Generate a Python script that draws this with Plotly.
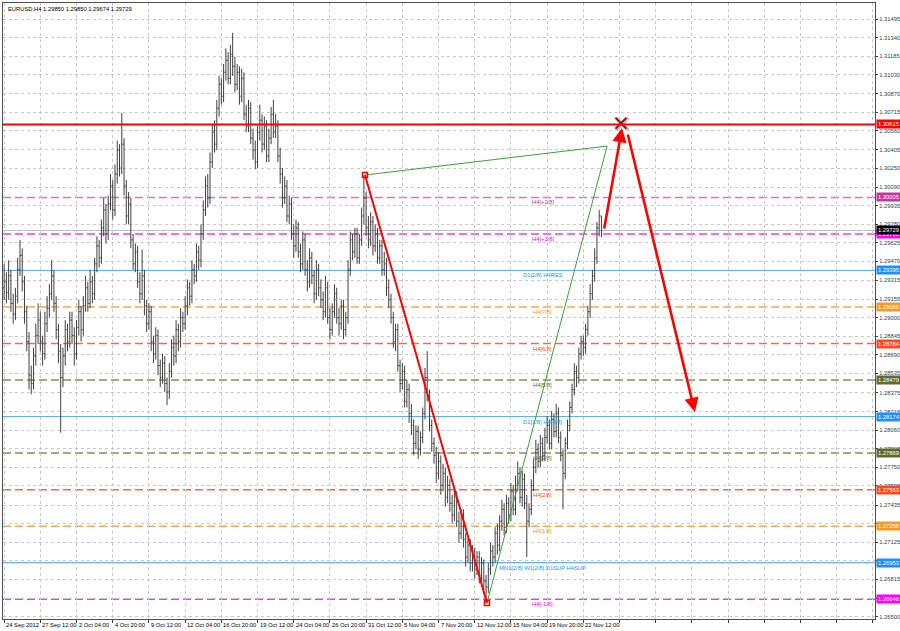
import plotly.graph_objects as go

symbol_title = "EURUSD,H4 1.29850 1.29850 1.29674 1.29729"

x_label_bars = [0, 16, 32, 48, 64, 80, 96, 112, 128, 144, 160, 176, 192, 208, 224, 240, 256]
x_labels = ["24 Sep 2012", "27 Sep 12:00", "2 Oct 04:00", "4 Oct 20:00", "9 Oct 12:00",
            "12 Oct 04:00", "16 Oct 20:00", "19 Oct 12:00", "24 Oct 04:00", "26 Oct 20:00",
            "31 Oct 12:00", "5 Nov 04:00", "7 Nov 20:00", "12 Nov 12:00", "15 Nov 04:00",
            "19 Nov 20:00", "22 Nov 12:00"]
grid_bars = [0, 16, 32, 48, 64, 80, 96, 112, 128, 144, 160, 176, 192, 208, 224, 240, 256,
             272, 288, 304, 320, 336, 352, 368, 384]

y_ticks = [1.31495, 1.31340, 1.31185, 1.31030, 1.30870, 1.30715, 1.30560, 1.30405, 1.30250,
           1.30090, 1.29935, 1.29780, 1.29625, 1.29470, 1.29315, 1.29155, 1.29000, 1.28845,
           1.28690, 1.28535, 1.28375, 1.28215, 1.28060, 1.27905, 1.27750, 1.27595, 1.27435,
           1.27280, 1.27125, 1.26970, 1.26815, 1.26655, 1.26500]
y_hidden_ticks = [1.26970, 1.26655]

# H4 bars, 24 Sep 2012 20:00 .. 23 Nov 2012 20:00
opens = [
    1.2925, 1.2930, 1.2921, 1.2935, 1.2912, 1.2903, 1.2918, 1.2940, 1.2952, 1.2930,
    1.2905, 1.2880, 1.2852, 1.2845, 1.2868, 1.2885, 1.2898, 1.2880, 1.2870, 1.2895,
    1.2908, 1.2920, 1.2935, 1.2912, 1.2890, 1.2872, 1.2850, 1.2868, 1.2890, 1.2880,
    1.2898, 1.2885, 1.2870, 1.2892, 1.2905, 1.2890, 1.2910, 1.2925, 1.2912, 1.2930,
    1.2920, 1.2945, 1.2960, 1.2950, 1.2975, 1.2990, 1.2970, 1.2995, 1.3010, 1.2990,
    1.3020, 1.3040, 1.3025, 1.3045, 1.3010, 1.2985, 1.2995, 1.2965, 1.2945, 1.2955,
    1.2930, 1.2920, 1.2935, 1.2910, 1.2895, 1.2905, 1.2880, 1.2870, 1.2885, 1.2860,
    1.2850, 1.2862, 1.2845, 1.2838, 1.2855, 1.2875, 1.2868, 1.2890, 1.2880, 1.2900,
    1.2895, 1.2910, 1.2925, 1.2918, 1.2940, 1.2935, 1.2955, 1.2948, 1.2970, 1.2990,
    1.3010, 1.3000, 1.3030, 1.3055, 1.3045, 1.3075, 1.3095, 1.3085, 1.3105, 1.3115,
    1.3100, 1.3120, 1.3110, 1.3095, 1.3105, 1.3085, 1.3100, 1.3070, 1.3060, 1.3075,
    1.3050, 1.3040, 1.3030, 1.3055, 1.3065, 1.3045, 1.3060, 1.3035, 1.3050, 1.3070,
    1.3055, 1.3060, 1.3035, 1.3020, 1.3000, 1.3010, 1.2985, 1.2995, 1.2970, 1.2960,
    1.2975, 1.2955, 1.2945, 1.2965, 1.2940, 1.2930, 1.2950, 1.2935, 1.2920, 1.2940,
    1.2925, 1.2915, 1.2905, 1.2925, 1.2900, 1.2890, 1.2905, 1.2920, 1.2900, 1.2895,
    1.2910, 1.2890, 1.2900, 1.2940, 1.2965, 1.2955, 1.2970, 1.2950, 1.2965, 1.2985,
    1.3000, 1.2975, 1.2965, 1.2980, 1.2960, 1.2970, 1.2950, 1.2960, 1.2940, 1.2945,
    1.2925, 1.2915, 1.2900, 1.2880, 1.2890, 1.2860, 1.2845, 1.2855, 1.2830, 1.2840,
    1.2820, 1.2810, 1.2795, 1.2805, 1.2790, 1.2800, 1.2820, 1.2850, 1.2835, 1.2810,
    1.2795, 1.2785, 1.2770, 1.2780, 1.2760, 1.2770, 1.2750, 1.2760, 1.2745, 1.2735,
    1.2750, 1.2730, 1.2720, 1.2735, 1.2715, 1.2700, 1.2710, 1.2695, 1.2705, 1.2690,
    1.2700, 1.2685, 1.2695, 1.2680, 1.2675, 1.2690, 1.2705, 1.2700, 1.2720, 1.2710,
    1.2730, 1.2740, 1.2725, 1.2745, 1.2735, 1.2755, 1.2740, 1.2760, 1.2770, 1.2750,
    1.2765, 1.2745, 1.2730, 1.2740, 1.2760, 1.2775, 1.2790, 1.2780, 1.2795, 1.2785,
    1.2800, 1.2810, 1.2795, 1.2815, 1.2805, 1.2820, 1.2800, 1.2785, 1.2770, 1.2795,
    1.2810, 1.2825, 1.2840, 1.2855, 1.2850, 1.2870, 1.2880, 1.2875, 1.2890, 1.2905,
    1.2920, 1.2935, 1.2950, 1.2975, 1.29850]
highs = [
    1.2945, 1.2938, 1.2948, 1.2940, 1.2920, 1.2925, 1.2950, 1.2965, 1.2958, 1.2935,
    1.2910, 1.2888, 1.2860, 1.2875, 1.2895, 1.2912, 1.2905, 1.2885, 1.2905, 1.2918,
    1.2928, 1.2948, 1.2940, 1.2918, 1.2895, 1.2878, 1.2875, 1.2898, 1.2895, 1.2905,
    1.2905, 1.2892, 1.2898, 1.2915, 1.2910, 1.2918, 1.2935, 1.2930, 1.2940, 1.2935,
    1.2950, 1.2968, 1.2965, 1.2982, 1.3000, 1.2995, 1.3002, 1.3020, 1.3015, 1.3028,
    1.3048, 1.3045, 1.3071, 1.3050, 1.3015, 1.3005, 1.3000, 1.2970, 1.2962, 1.2960,
    1.2938, 1.2957, 1.2940, 1.2915, 1.2912, 1.2910, 1.2885, 1.2892, 1.2890, 1.2865,
    1.2870, 1.2868, 1.2850, 1.2862, 1.2882, 1.2885, 1.2898, 1.2895, 1.2908, 1.2905,
    1.2918, 1.2932, 1.2930, 1.2948, 1.2945, 1.2962, 1.2960, 1.2978, 1.2998, 1.3018,
    1.3020, 1.3038, 1.3062, 1.3065, 1.3082, 1.3102, 1.3100, 1.3112, 1.3125, 1.3122,
    1.3128, 1.3138, 1.3118, 1.3112, 1.3110, 1.3108, 1.3105, 1.3078, 1.3082, 1.3080,
    1.3058, 1.3048, 1.3060, 1.3078, 1.3070, 1.3068, 1.3065, 1.3058, 1.3076, 1.3082,
    1.3070, 1.3065, 1.3042, 1.3025, 1.3018, 1.3015, 1.3002, 1.3000, 1.2978, 1.2982,
    1.2980, 1.2962, 1.2972, 1.2970, 1.2948, 1.2958, 1.2955, 1.2940, 1.2948, 1.2945,
    1.2932, 1.2922, 1.2935, 1.2930, 1.2908, 1.2912, 1.2928, 1.2925, 1.2908, 1.2915,
    1.2915, 1.2905, 1.2948, 1.2972, 1.2970, 1.2975, 1.2975, 1.2970, 1.2992, 1.3019,
    1.3005, 1.2985, 1.2988, 1.2985, 1.2978, 1.2975, 1.2965, 1.2965, 1.2955, 1.2950,
    1.2932, 1.2920, 1.2905, 1.2895, 1.2895, 1.2865, 1.2862, 1.2860, 1.2848, 1.2845,
    1.2828, 1.2815, 1.2810, 1.2810, 1.2805, 1.2825, 1.2858, 1.2872, 1.2840, 1.2815,
    1.2800, 1.2792, 1.2788, 1.2785, 1.2778, 1.2775, 1.2768, 1.2765, 1.2752, 1.2758,
    1.2755, 1.2738, 1.2740, 1.2740, 1.2720, 1.2715, 1.2715, 1.2710, 1.2708, 1.2705,
    1.2705, 1.2700, 1.2698, 1.2685, 1.2695, 1.2712, 1.2710, 1.2725, 1.2728, 1.2735,
    1.2748, 1.2745, 1.2752, 1.2750, 1.2762, 1.2760, 1.2768, 1.2780, 1.2775, 1.2772,
    1.2770, 1.2752, 1.2745, 1.2765, 1.2782, 1.2798, 1.2795, 1.2802, 1.2800, 1.2808,
    1.2818, 1.2815, 1.2822, 1.2820, 1.2828, 1.2825, 1.2805, 1.2790, 1.2800, 1.2815,
    1.2830, 1.2845, 1.2862, 1.2860, 1.2875, 1.2885, 1.2885, 1.2895, 1.2910, 1.2928,
    1.2940, 1.2958, 1.2980, 1.2990, 1.29850]
lows = [
    1.2915, 1.2912, 1.2915, 1.2905, 1.2895, 1.2898, 1.2912, 1.2935, 1.2922, 1.2895,
    1.2872, 1.2840, 1.2836, 1.2840, 1.2860, 1.2878, 1.2872, 1.2860, 1.2865, 1.2888,
    1.2900, 1.2915, 1.2905, 1.2882, 1.2862, 1.2804, 1.2842, 1.2860, 1.2872, 1.2875,
    1.2878, 1.2860, 1.2865, 1.2885, 1.2880, 1.2885, 1.2905, 1.2905, 1.2908, 1.2912,
    1.2915, 1.2938, 1.2942, 1.2945, 1.2968, 1.2962, 1.2965, 1.2990, 1.2982, 1.2985,
    1.3012, 1.3018, 1.3020, 1.3002, 1.2978, 1.2978, 1.2958, 1.2940, 1.2938, 1.2925,
    1.2912, 1.2915, 1.2902, 1.2888, 1.2890, 1.2872, 1.2862, 1.2865, 1.2852, 1.2842,
    1.2845, 1.2838, 1.2827, 1.2832, 1.2850, 1.2860, 1.2862, 1.2872, 1.2875, 1.2888,
    1.2890, 1.2902, 1.2910, 1.2912, 1.2928, 1.2930, 1.2940, 1.2942, 1.2965, 1.2985,
    1.2992, 1.2995, 1.3025, 1.3038, 1.3040, 1.3068, 1.3078, 1.3080, 1.3098, 1.3095,
    1.3095, 1.3102, 1.3088, 1.3090, 1.3078, 1.3080, 1.3065, 1.3055, 1.3055, 1.3045,
    1.3032, 1.3024, 1.3025, 1.3048, 1.3038, 1.3040, 1.3030, 1.3030, 1.3045, 1.3050,
    1.3050, 1.3030, 1.3012, 1.2992, 1.2995, 1.2980, 1.2978, 1.2965, 1.2950, 1.2955,
    1.2950, 1.2938, 1.2940, 1.2935, 1.2922, 1.2925, 1.2928, 1.2912, 1.2915, 1.2918,
    1.2908, 1.2898, 1.2900, 1.2895, 1.2882, 1.2885, 1.2900, 1.2895, 1.2885, 1.2890,
    1.2882, 1.2885, 1.2895, 1.2935, 1.2948, 1.2950, 1.2945, 1.2945, 1.2960, 1.2978,
    1.2968, 1.2958, 1.2960, 1.2952, 1.2955, 1.2945, 1.2945, 1.2935, 1.2935, 1.2918,
    1.2908, 1.2895, 1.2875, 1.2872, 1.2855, 1.2838, 1.2840, 1.2825, 1.2825, 1.2812,
    1.2802, 1.2785, 1.2790, 1.2782, 1.2785, 1.2795, 1.2815, 1.2830, 1.2805, 1.2788,
    1.2778, 1.2762, 1.2765, 1.2752, 1.2755, 1.2742, 1.2745, 1.2738, 1.2728, 1.2730,
    1.2725, 1.2712, 1.2715, 1.2708, 1.2692, 1.2695, 1.2688, 1.2688, 1.2682, 1.2685,
    1.2678, 1.2680, 1.2672, 1.2662, 1.2670, 1.2685, 1.2692, 1.2695, 1.2702, 1.2705,
    1.2722, 1.2718, 1.2720, 1.2728, 1.2730, 1.2735, 1.2735, 1.2755, 1.2745, 1.2742,
    1.2740, 1.2700, 1.2725, 1.2735, 1.2755, 1.2770, 1.2775, 1.2775, 1.2780, 1.2780,
    1.2795, 1.2790, 1.2790, 1.2800, 1.2800, 1.2795, 1.2780, 1.2740, 1.2765, 1.2790,
    1.2805, 1.2820, 1.2835, 1.2842, 1.2845, 1.2865, 1.2868, 1.2870, 1.2885, 1.2900,
    1.2915, 1.2930, 1.2945, 1.2968, 1.29674]
closes = [
    1.2930, 1.2921, 1.2935, 1.2912, 1.2903, 1.2918, 1.2940, 1.2952, 1.2930, 1.2905,
    1.2880, 1.2852, 1.2845, 1.2868, 1.2885, 1.2898, 1.2880, 1.2870, 1.2895, 1.2908,
    1.2920, 1.2935, 1.2912, 1.2890, 1.2872, 1.2850, 1.2868, 1.2890, 1.2880, 1.2898,
    1.2885, 1.2870, 1.2892, 1.2905, 1.2890, 1.2910, 1.2925, 1.2912, 1.2930, 1.2920,
    1.2945, 1.2960, 1.2950, 1.2975, 1.2990, 1.2970, 1.2995, 1.3010, 1.2990, 1.3020,
    1.3040, 1.3025, 1.3045, 1.3010, 1.2985, 1.2995, 1.2965, 1.2945, 1.2955, 1.2930,
    1.2920, 1.2935, 1.2910, 1.2895, 1.2905, 1.2880, 1.2870, 1.2885, 1.2860, 1.2850,
    1.2862, 1.2845, 1.2838, 1.2855, 1.2875, 1.2868, 1.2890, 1.2880, 1.2900, 1.2895,
    1.2910, 1.2925, 1.2918, 1.2940, 1.2935, 1.2955, 1.2948, 1.2970, 1.2990, 1.3010,
    1.3000, 1.3030, 1.3055, 1.3045, 1.3075, 1.3095, 1.3085, 1.3105, 1.3115, 1.3100,
    1.3120, 1.3110, 1.3095, 1.3105, 1.3085, 1.3100, 1.3070, 1.3060, 1.3075, 1.3050,
    1.3040, 1.3030, 1.3055, 1.3065, 1.3045, 1.3060, 1.3035, 1.3050, 1.3070, 1.3055,
    1.3060, 1.3035, 1.3020, 1.3000, 1.3010, 1.2985, 1.2995, 1.2970, 1.2960, 1.2975,
    1.2955, 1.2945, 1.2965, 1.2940, 1.2930, 1.2950, 1.2935, 1.2920, 1.2940, 1.2925,
    1.2915, 1.2905, 1.2925, 1.2900, 1.2890, 1.2905, 1.2920, 1.2900, 1.2895, 1.2910,
    1.2890, 1.2900, 1.2940, 1.2965, 1.2955, 1.2970, 1.2950, 1.2965, 1.2985, 1.3000,
    1.2975, 1.2965, 1.2980, 1.2960, 1.2970, 1.2950, 1.2960, 1.2940, 1.2945, 1.2925,
    1.2915, 1.2900, 1.2880, 1.2890, 1.2860, 1.2845, 1.2855, 1.2830, 1.2840, 1.2820,
    1.2810, 1.2795, 1.2805, 1.2790, 1.2800, 1.2820, 1.2850, 1.2835, 1.2810, 1.2795,
    1.2785, 1.2770, 1.2780, 1.2760, 1.2770, 1.2750, 1.2760, 1.2745, 1.2735, 1.2750,
    1.2730, 1.2720, 1.2735, 1.2715, 1.2700, 1.2710, 1.2695, 1.2705, 1.2690, 1.2700,
    1.2685, 1.2695, 1.2680, 1.2675, 1.2690, 1.2705, 1.2700, 1.2720, 1.2710, 1.2730,
    1.2740, 1.2725, 1.2745, 1.2735, 1.2755, 1.2740, 1.2760, 1.2770, 1.2750, 1.2765,
    1.2745, 1.2730, 1.2740, 1.2760, 1.2775, 1.2790, 1.2780, 1.2795, 1.2785, 1.2800,
    1.2810, 1.2795, 1.2815, 1.2805, 1.2820, 1.2800, 1.2785, 1.2770, 1.2795, 1.2810,
    1.2825, 1.2840, 1.2855, 1.2850, 1.2870, 1.2880, 1.2875, 1.2890, 1.2905, 1.2920,
    1.2935, 1.2950, 1.2975, 1.2985, 1.29729]

level_prices = [1.30005, 1.29700, 1.29395, 1.29089, 1.28784, 1.28479, 1.28174, 1.27869,
                1.27563, 1.27258, 1.26953, 1.26648]
level_names = ["H4[+2/8]", "H4[+1/8]", "D1[2/8] H4RES", "H4[7/8]", "H4[6/8]", "H4[5/8]",
               "D1[1/8] H4[4/8]", "H4[3/8]", "H4[2/8]", "H4[1/8]",
               "MN1[2/8] W1[2/8] D1SUP H4SUP", "H4[-1/8]"]
level_line_colors = ["#E070C8", "#FF33FF", "#55A8F5", "#F5A855", "#FF6A45", "#8C8C5E",
                     "#55A8F5", "#8C8C5E", "#FF6A45", "#F5A855", "#3D9BF5", "#FF33FF"]
level_box_colors = ["#C8349C", "#FF00FF", "#1E90FF", "#F59A25", "#FF4A1E", "#5E6B2E",
                    "#1E90FF", "#5E6B2E", "#FF4A1E", "#F59A25", "#1E90FF", "#FF00FF"]
level_dashed = [True, True, False, True, True, True, False, True, True, True, False, True]

target_price = 1.30615
bid_price = 1.29729

# pattern drawing points (bar index, price)
red_leg_bars = [159.5, 213.4]
red_leg_prices = [1.30192, 1.26617]
green_bars = [159.5, 266.5, 213.4]
green_prices = [1.30192, 1.30434, 1.26617]
arrow_up = [(265.1, 1.29733), (273.1, 1.30585)]
arrow_down = [(275.5, 1.30543), (305.3, 1.28212)]
x_mark = (272.6, 1.30625)

fig = go.Figure()

shapes = []
for p, c, d in zip(level_prices, level_line_colors, level_dashed):
    shapes.append(dict(type="line", xref="paper", x0=0, x1=1, yref="y", y0=p, y1=p,
                       line=dict(color=c, width=1.5 if d else 1,
                                 dash="8px,4px" if d else "solid"), layer="below"))
shapes.append(dict(type="line", xref="paper", x0=0, x1=1, yref="y", y0=bid_price, y1=bid_price,
                   line=dict(color="#BBBBBB", width=1), layer="below"))
shapes.append(dict(type="line", xref="paper", x0=0, x1=1, yref="y", y0=target_price,
                   y1=target_price, line=dict(color="#FF0000", width=2)))

fig.add_trace(go.Ohlc(x=list(range(len(closes))), open=opens, high=highs, low=lows, close=closes,
                      increasing=dict(line=dict(color="#404040", width=1)),
                      decreasing=dict(line=dict(color="#404040", width=1)),
                      tickwidth=0.45, hoverinfo="skip"))

fig.add_trace(go.Scatter(x=green_bars, y=green_prices, mode="lines",
                         line=dict(color="#3DA03D", width=1), hoverinfo="skip"))
fig.add_trace(go.Scatter(x=red_leg_bars, y=red_leg_prices, mode="lines+markers",
                         line=dict(color="#FF0000", width=2),
                         marker=dict(symbol="square-open", size=5, color="#FF0000",
                                     line=dict(width=1.5)), hoverinfo="skip"))
fig.add_trace(go.Scatter(x=[x_mark[0] + 0.6], y=[x_mark[1] - 0.00006], mode="markers",
                         marker=dict(symbol="x-thin", size=12, line=dict(color="#BBBBBB", width=3)),
                         hoverinfo="skip"))
fig.add_trace(go.Scatter(x=[x_mark[0]], y=[x_mark[1]], mode="markers",
                         marker=dict(symbol="x-thin", size=11, line=dict(color="#A01010", width=2)),
                         hoverinfo="skip"))

annotations = []
for (x0, y0), (x1, y1) in [arrow_up, arrow_down]:
    annotations.append(dict(x=x1, y=y1, ax=x0, ay=y0, xref="x", yref="y", axref="x", ayref="y",
                            text="", showarrow=True, arrowhead=2, arrowsize=1.1, arrowwidth=2.6,
                            arrowcolor="#FF0000"))

small = dict(family="Liberation Sans, Arial, sans-serif", size=5.8)

for p, n, c in zip(level_prices, level_names, level_box_colors):
    annotations.append(dict(x=238, y=p, xref="x", yref="y", text=n, showarrow=False,
                            yshift=-5, font=dict(small, color=c)))

for p, c in zip(level_prices + [target_price, bid_price], level_box_colors + ["#FF0000", "#000000"]):
    annotations.append(dict(x=1, y=p, xref="paper", yref="y", xanchor="left", xshift=1,
                            text="%.5f" % p, showarrow=False, bgcolor=c, borderpad=1,
                            font=dict(small, color="#FFFFFF")))

for b, t in zip(x_label_bars, x_labels):
    annotations.append(dict(x=b, y=0, xref="x", yref="paper", xanchor="left", yanchor="top",
                            xshift=0, yshift=-1, text=t, showarrow=False,
                            font=dict(small, color="#000000")))

annotations.append(dict(x=0, y=1, xref="paper", yref="paper", xanchor="left", yanchor="top",
                        xshift=3, yshift=-1, text=symbol_title, showarrow=False,
                        font=dict(small, color="#000000")))

fig.update_layout(
    width=900, height=631,
    margin=dict(l=3, r=25, t=3, b=12, autoexpand=False),
    paper_bgcolor="#FFFFFF", plot_bgcolor="#FFFFFF",
    showlegend=False,
    shapes=shapes, annotations=annotations,
    xaxis=dict(range=[-0.5, 384.9], tickvals=grid_bars, showticklabels=False,
               ticks="outside", ticklen=3, tickcolor="#404040", automargin=False,
               showgrid=True, gridcolor="#C8C8C8", griddash="dot", gridwidth=1,
               showline=True, linecolor="#505050", mirror=True, zeroline=False,
               rangeslider=dict(visible=False)),
    yaxis=dict(range=[1.26483, 1.31629], side="right", tickvals=y_ticks,
               ticktext=["" if v in y_hidden_ticks else "%.5f" % v for v in y_ticks],
               tickfont=small, automargin=False,
               ticks="outside", ticklen=2, tickcolor="#404040",
               showgrid=True, gridcolor="#C8C8C8", griddash="dot", gridwidth=1,
               showline=True, linecolor="#505050", mirror=True, zeroline=False),
)

fig.write_html("out.html", config={"displayModeBar": False},
               post_script="document.body.style.margin='0';document.body.style.overflow='hidden';")
